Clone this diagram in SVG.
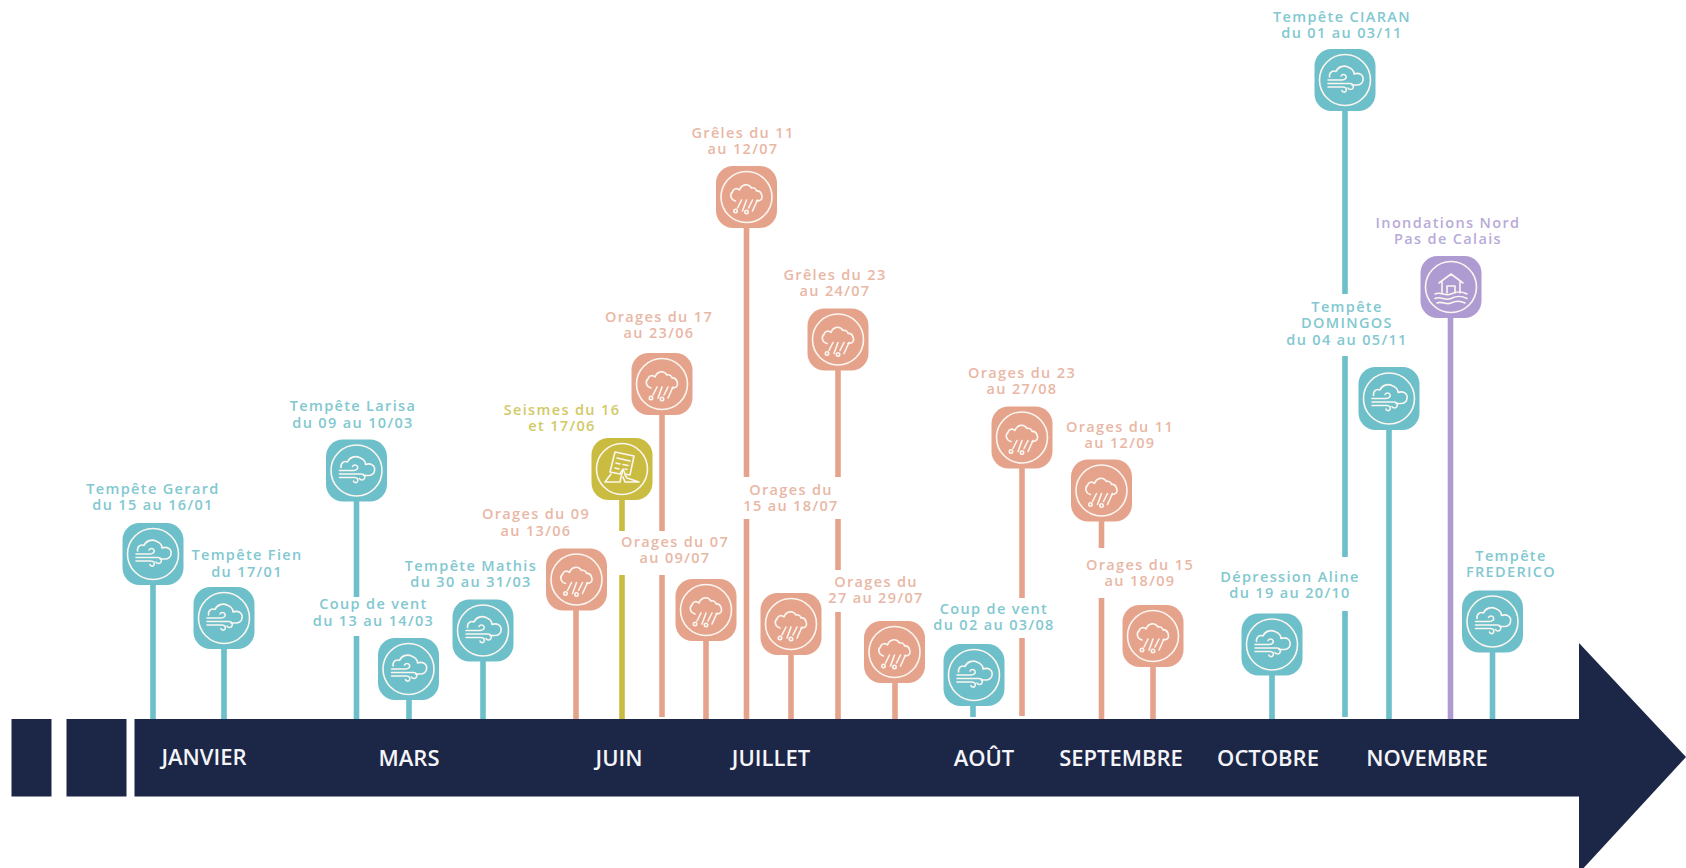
<svg xmlns="http://www.w3.org/2000/svg" xmlns:xlink="http://www.w3.org/1999/xlink" width="1686" height="868" viewBox="0 0 1686 868">
<style>
text{font-family:"Open Sans","Noto Sans","Liberation Sans",sans-serif;text-anchor:middle}
.lb{font-size:14.500px;font-weight:600;letter-spacing:1.350px}
.mo{font-size:22px;font-weight:600;fill:#f4f5f8}
.ic{fill:none;stroke:#fbf6f0;stroke-width:1.6;stroke-linecap:round;stroke-linejoin:round}
.node rect{rx:17px}
.teal rect{fill:#6dbfc9}.teal text{fill:#82c8d0}
.salm rect{fill:#e6a38c}.salm text{fill:#e9b7a5}
.yell rect{fill:#c9bc40}.yell text{fill:#d2c966}
.purp rect{fill:#ad9bd1}.purp text{fill:#b8abd9}
#connectors line{stroke-width:5.6}
.c-t{stroke:#6dbfc9}.c-s{stroke:#e6a38c}.c-y{stroke:#c9bc40}.c-p{stroke:#ad9bd1}
</style>
<defs>
<g id="wind" class="ic">
<circle r="25.5"/>
<path d="M-15.5-3C-16-8-12-10-9-8.500C-7-13.500-1-15 3-13C7-11.500 9-9 9-6C14-8 19-5 18 0C18 3 15 5 12 5L7 5"/>
<path d="M-17 0H-3C0 0 2-2 1-4C0-6-3-6-4-4M-17 3.500H5C8 3.500 9 6 8 8C7 10 4 10 3 8M-17 7H-2C1 7 2 9 1 11C0 13-3 12-3 10.500"/>
</g>
<g id="rain" class="ic">
<circle r="25.500"/>
<path d="M-11 4C-16 3-17-3-14-5C-13-9-9-9-7-7C-5-13 2-14 5-9C7-10 10-8 10-6C15-7 17 1 14 3C13 4 11 4 10 4"/>
<path d="M-5 3L-9 11M0 3L-4 14M6 3L2 11M11 3L6 14"/>
<circle cx="-11" cy="14" r="1.700"/><circle cx="0" cy="15" r="1.700"/>
</g>
<g id="quake" class="ic">
<circle r="25.500"/>
<path d="M-7-17L12-13L8 6L3 5L1 0L-2 5L-12 3Z"/>
<path d="M-5-11L8-8M-6-6L-2-5M1-4.500L6-3.500M-7-1L-3 0M3 0L5 .5"/>
<path d="M-11 5L-17 13L-2 13L-1 8L1 1M3 6L5 9L17 13L3 13L1 8"/>
</g>
<g id="flood" class="ic">
<circle r="25.500"/>
<path d="M-12-4L0-13L12-4M-9-6V6M9-6V6M-4 6V-1H4V6"/>
<path d="M-16 7C-10 4-6 10 0 7S10 4 16 7M-16 11.500C-10 8.500-6 14.500 0 11.500S10 8.500 16 11.500M-14 16C-9 13.500-5 18.500 0 16S9 13.500 14 16"/>
</g>
</defs>
<rect width="1686" height="868" fill="#ffffff"/>

<g id="connectors">
<line class="c-t" x1="153" y1="585" x2="153" y2="720"/>
<line class="c-t" x1="224" y1="649" x2="224" y2="720"/>
<line class="c-t" x1="356.500" y1="501" x2="356.500" y2="597"/>
<line class="c-t" x1="356.500" y1="636" x2="356.500" y2="720"/>
<line class="c-t" x1="409" y1="700" x2="409" y2="720"/>
<line class="c-t" x1="483" y1="661" x2="483" y2="720"/>
<line class="c-s" x1="576" y1="610" x2="576" y2="720"/>
<line class="c-y" x1="622" y1="500" x2="622" y2="531"/>
<line class="c-y" x1="622" y1="575" x2="622" y2="720"/>
<line class="c-s" x1="662" y1="415" x2="662" y2="531"/>
<line class="c-s" x1="662" y1="575" x2="662" y2="717"/>
<line class="c-s" x1="706" y1="641" x2="706" y2="720"/>
<line class="c-s" x1="746.500" y1="228" x2="746.500" y2="477"/>
<line class="c-s" x1="746.500" y1="519" x2="746.500" y2="719"/>
<line class="c-s" x1="791" y1="655" x2="791" y2="720"/>
<line class="c-s" x1="838" y1="370" x2="838" y2="477"/>
<line class="c-s" x1="838" y1="519" x2="838" y2="570"/>
<line class="c-s" x1="838" y1="612" x2="838" y2="720"/>
<line class="c-s" x1="895" y1="683" x2="895" y2="720"/>
<line class="c-t" x1="973" y1="706" x2="973" y2="717"/>
<line class="c-s" x1="1022" y1="468" x2="1022" y2="598"/>
<line class="c-s" x1="1022" y1="638" x2="1022" y2="716"/>
<line class="c-s" x1="1101.500" y1="521" x2="1101.500" y2="548"/>
<line class="c-s" x1="1101.500" y1="598" x2="1101.500" y2="720"/>
<line class="c-s" x1="1153" y1="667" x2="1153" y2="720"/>
<line class="c-t" x1="1272" y1="675" x2="1272" y2="720"/>
<line class="c-t" x1="1345" y1="111" x2="1345" y2="294"/>
<line class="c-t" x1="1345" y1="356" x2="1345" y2="557"/>
<line class="c-t" x1="1345" y1="611" x2="1345" y2="717"/>
<line class="c-t" x1="1389" y1="430" x2="1389" y2="720"/>
<line class="c-p" x1="1450.500" y1="318" x2="1450.500" y2="720"/>
<line class="c-t" x1="1492.500" y1="652" x2="1492.500" y2="720"/>
</g>

<g id="timeline" fill="#1c2646">
<rect x="11.500" y="719" width="40" height="77.500"/>
<rect x="66.500" y="719" width="60" height="77.500"/>
<rect x="134.500" y="719" width="1445" height="77.500"/>
<polygon points="1579,643 1686,757 1579,873"/>
<text class="mo" x="204" y="765">JANVIER</text>
<text class="mo" x="409" y="766">MARS</text>
<text class="mo" x="619" y="766">JUIN</text>
<text class="mo" x="771" y="766">JUILLET</text>
<text class="mo" x="984" y="766">AOÛT</text>
<text class="mo" x="1121" y="766">SEPTEMBRE</text>
<text class="mo" x="1268" y="766">OCTOBRE</text>
<text class="mo" x="1427" y="766">NOVEMBRE</text>
</g>

<g id="n-gerard" class="node teal"><rect x="122.500" y="523" width="61" height="62"/><use xlink:href="#wind" x="153" y="554"/><text class="lb" x="153" y="494">Tempête Gerard</text><text class="lb" x="153" y="510">du 15 au 16/01</text></g>
<g id="n-fien" class="node teal"><rect x="193.500" y="587" width="61" height="62"/><use xlink:href="#wind" x="224" y="618"/><text class="lb" x="247" y="560">Tempête Fien</text><text class="lb" x="247" y="577">du 17/01</text></g>
<g id="n-larisa" class="node teal"><rect x="326" y="439.500" width="61" height="62"/><use xlink:href="#wind" x="356.500" y="470.500"/><text class="lb" x="353" y="411">Tempête Larisa</text><text class="lb" x="353" y="428">du 09 au 10/03</text></g>
<g id="n-coup13" class="node teal"><rect x="378" y="638" width="61" height="62"/><use xlink:href="#wind" x="408.500" y="669"/><text class="lb" x="373.500" y="609">Coup de vent</text><text class="lb" x="373.500" y="626">du 13 au 14/03</text></g>
<g id="n-mathis" class="node teal"><rect x="452.500" y="599.500" width="61" height="62"/><use xlink:href="#wind" x="483" y="630.500"/><text class="lb" x="471" y="571">Tempête Mathis</text><text class="lb" x="471" y="587">du 30 au 31/03</text></g>
<g id="n-orages09" class="node salm"><rect x="546" y="548.500" width="61" height="62"/><use xlink:href="#rain" x="576.500" y="579.500"/><text class="lb" x="536" y="519">Orages du 09</text><text class="lb" x="536" y="536">au 13/06</text></g>
<g id="n-seismes" class="node yell"><rect x="591.500" y="438" width="61" height="62"/><use xlink:href="#quake" x="622" y="469"/><text class="lb" x="562" y="415">Seismes du 16</text><text class="lb" x="562" y="431">et 17/06</text></g>
<g id="n-orages17" class="node salm"><rect x="631.500" y="353" width="61" height="62"/><use xlink:href="#rain" x="662" y="384"/><text class="lb" x="659" y="322">Orages du 17</text><text class="lb" x="659" y="338">au 23/06</text></g>
<g id="n-orages07" class="node salm"><rect x="675.500" y="579" width="61" height="62"/><use xlink:href="#rain" x="706" y="610"/><text class="lb" x="675" y="547">Orages du 07</text><text class="lb" x="675" y="563">au 09/07</text></g>
<g id="n-greles11" class="node salm"><rect x="716" y="166" width="61" height="62"/><use xlink:href="#rain" x="746.500" y="197"/><text class="lb" x="743" y="138">Grêles du 11</text><text class="lb" x="743" y="154">au 12/07</text></g>
<g id="n-orages15j" class="node salm"><rect x="760.500" y="593" width="61" height="62"/><use xlink:href="#rain" x="791" y="624"/><text class="lb" x="791" y="495">Orages du</text><text class="lb" x="791" y="511">15 au 18/07</text></g>
<g id="n-greles23" class="node salm"><rect x="807.500" y="308.500" width="61" height="62"/><use xlink:href="#rain" x="838" y="339.500"/><text class="lb" x="835" y="280">Grêles du 23</text><text class="lb" x="835" y="296">au 24/07</text></g>
<g id="n-orages27" class="node salm"><rect x="864" y="621" width="61" height="62"/><use xlink:href="#rain" x="894.500" y="652"/><text class="lb" x="876" y="587">Orages du</text><text class="lb" x="876" y="603">27 au 29/07</text></g>
<g id="n-coup02" class="node teal"><rect x="943.500" y="644" width="61" height="62"/><use xlink:href="#wind" x="974" y="675"/><text class="lb" x="994" y="614">Coup de vent</text><text class="lb" x="994" y="630">du 02 au 03/08</text></g>
<g id="n-orages23" class="node salm"><rect x="991.500" y="406.500" width="61" height="62"/><use xlink:href="#rain" x="1022" y="437.500"/><text class="lb" x="1022" y="378">Orages du 23</text><text class="lb" x="1022" y="394">au 27/08</text></g>
<g id="n-orages11" class="node salm"><rect x="1071" y="459.500" width="61" height="62"/><use xlink:href="#rain" x="1101.500" y="490.500"/><text class="lb" x="1120" y="432">Orages du 11</text><text class="lb" x="1120" y="448">au 12/09</text></g>
<g id="n-orages15s" class="node salm"><rect x="1122.500" y="605" width="61" height="62"/><use xlink:href="#rain" x="1153" y="636"/><text class="lb" x="1140" y="570">Orages du 15</text><text class="lb" x="1140" y="586">au 18/09</text></g>
<g id="n-aline" class="node teal"><rect x="1241.500" y="613.500" width="61" height="62"/><use xlink:href="#wind" x="1272" y="644.500"/><text class="lb" x="1290" y="582">Dépression Aline</text><text class="lb" x="1290" y="598">du 19 au 20/10</text></g>
<g id="n-ciaran" class="node teal"><rect x="1314.500" y="49" width="61" height="62"/><use xlink:href="#wind" x="1345" y="80"/><text class="lb" x="1342" y="22">Tempête CIARAN</text><text class="lb" x="1342" y="38">du 01 au 03/11</text></g>
<g id="n-domingos" class="node teal"><rect x="1358.500" y="367" width="61" height="63"/><use xlink:href="#wind" x="1389" y="398.500"/><text class="lb" x="1347" y="312">Tempête</text><text class="lb" x="1347" y="328">DOMINGOS</text><text class="lb" x="1347" y="345">du 04 au 05/11</text></g>
<g id="n-inondations" class="node purp"><rect x="1420.500" y="256" width="61" height="62"/><use xlink:href="#flood" x="1451" y="287"/><text class="lb" x="1448" y="228">Inondations Nord</text><text class="lb" x="1448" y="244">Pas de Calais</text></g>
<g id="n-frederico" class="node teal"><rect x="1462" y="590.500" width="61" height="62"/><use xlink:href="#wind" x="1492.500" y="621.500"/><text class="lb" x="1511" y="561">Tempête</text><text class="lb" x="1511" y="577">FREDERICO</text></g>
</svg>
